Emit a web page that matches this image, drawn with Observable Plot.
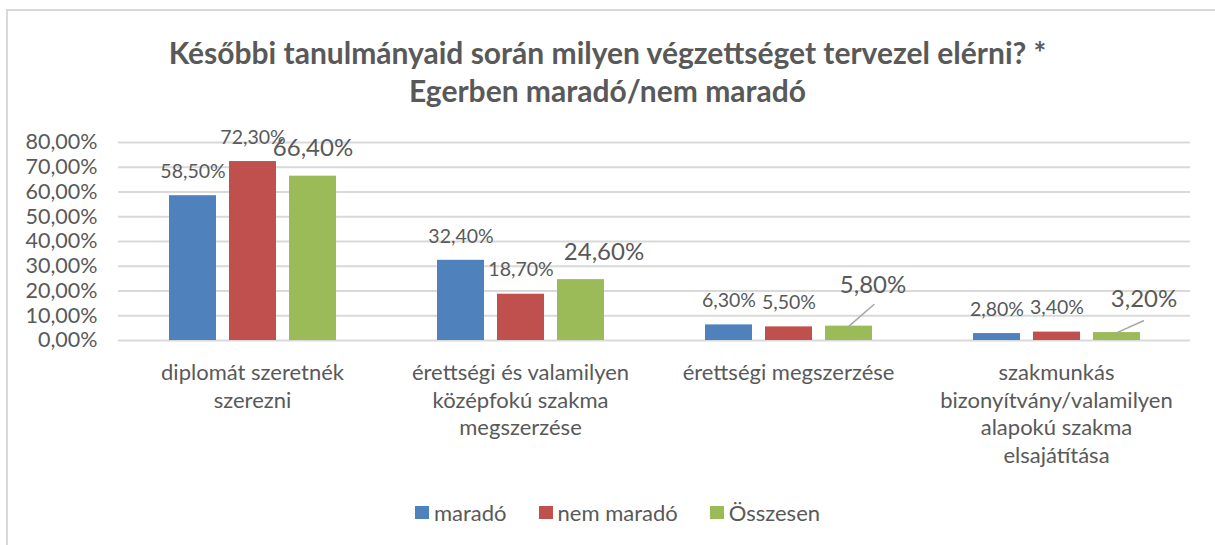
<!DOCTYPE html>
<html>
<head>
<meta charset="utf-8">
<script src="https://cdn.jsdelivr.net/npm/d3@7"></script>
<script src="https://cdn.jsdelivr.net/npm/@observablehq/plot@0.6"></script>
<style>
  html, body { margin: 0; padding: 0; background: #fff; }
  body { width: 1215px; height: 545px; position: relative; overflow: hidden; font-family: Lato, "Open Sans", sans-serif; }
  #frame { position: absolute; left: 6px; top: 9px; width: 1230px; height: 560px; border: 2px solid #d9d9d9; box-sizing: border-box; }
  #title { position: absolute; left: 0; width: 1215px; top: 33px; text-align: center; color: #595959; font-weight: bold; font-size: 30px; line-height: 38px; font-family: Lato, sans-serif; }
  #chart { position: absolute; left: 0; top: 110px; }
  #legend { position: absolute; left: 0; width: 1195px; padding-left: 20px; top: 499px; display: flex; justify-content: center; color: #595959; font-size: 22px; }
  .item { display: flex; align-items: center; margin: 0 16px; }
  .sw { width: 14px; height: 13px; margin-right: 5px; }
</style>
</head>
<body>
<div id="frame"></div>
<div id="title">Későbbi tanulmányaid során milyen végzettséget tervezel elérni? *<br>Egerben maradó/nem maradó</div>
<div id="chart"></div>
<div id="legend"></div>
<script>
const categories = [
  "diplomát szeretnék szerezni",
  "érettségi és valamilyen középfokú szakma megszerzése",
  "érettségi megszerzése",
  "szakmunkás bizonyítvány/valamilyen alapokú szakma elsajátítása"
];
const categoryLabels = [
  "diplomát szeretnék\nszerezni",
  "érettségi és valamilyen\nközépfokú szakma\nmegszerzése",
  "érettségi megszerzése",
  "szakmunkás\nbizonyítvány/valamilyen\nalapokú szakma\nelsajátítása"
];
const seriesNames = ["maradó", "nem maradó", "Összesen"];
const seriesColors = ["#4f81bd", "#c0504d", "#9bbb59"];
const marado = [58.5, 32.4, 6.3, 2.8];
const nemMarado = [72.3, 18.7, 5.5, 3.4];
const osszesen = [66.4, 24.6, 5.8, 3.2];
const yTicks = [0, 10, 20, 30, 40, 50, 60, 70, 80];

const seriesValues = [marado, nemMarado, osszesen];
const data = [];
categories.forEach((c, i) => {
  seriesNames.forEach((s, j) => {
    data.push({category: c, series: s, value: seriesValues[j][i], ci: i, si: j});
  });
});
const fmt = v => v.toFixed(2).replace(".", ",") + "%";
const labelMap = new Map(categories.map((c, i) => [c, categoryLabels[i]]));

const small = data.filter(d => d.si < 2);
const greenFirst = data.filter(d => d.si === 2 && d.ci === 0);
const greenSecond = data.filter(d => d.si === 2 && d.ci === 1);
const greenThird = data.filter(d => d.si === 2 && d.ci === 2);
const greenFourth = data.filter(d => d.si === 2 && d.ci === 3);

const leaderShape = {
  draw(context, l) { context.moveTo(0, 0); context.lineTo(0, -l); }
};
const pos = {fx: "category", x: "series", y: "value"};
const lbl = d => fmt(d.value);

const chart = Plot.plot({
  width: 1215,
  height: 380,
  marginLeft: 118,
  marginRight: 25,
  marginTop: 32,
  marginBottom: 150,
  style: {fontFamily: "Lato, 'Open Sans', sans-serif", color: "#595959", background: "transparent"},
  fx: {domain: categories, padding: 0},
  x: {domain: seriesNames, paddingInner: 0.22, paddingOuter: 0.84, axis: null},
  y: {domain: [0, 80]},
  color: {domain: seriesNames, range: seriesColors},
  marks: [
    Plot.gridY(yTicks, {stroke: "#d9d9d9", strokeOpacity: 1, strokeWidth: 2}),
    Plot.axisY({ticks: yTicks, tickFormat: fmt, tickSize: 0, tickPadding: 21, fontSize: 21.5, fill: "#595959", label: null}),
    Plot.axisFx({anchor: "bottom", tickFormat: c => labelMap.get(c), tickSize: 0, tickPadding: 20, fontSize: 22, lineHeight: 1.25, fill: "#595959", label: null, lineAnchor: "top"}),
    Plot.barY(data, {...pos, fill: "series"}),
    Plot.text(small, {...pos, text: lbl, dy: -24, fontSize: 19.5, fill: "#595959"}),
    Plot.text(greenFirst, {...pos, text: lbl, dy: -28, fontSize: 24, fill: "#595959"}),
    Plot.text(greenSecond, {...pos, text: lbl, dx: 23, dy: -27, fontSize: 24, fill: "#595959"}),
    Plot.text(greenThird, {...pos, text: lbl, dx: 24, dy: -41, fontSize: 24, fill: "#595959"}),
    Plot.text(greenFourth, {...pos, text: lbl, dx: 27, dy: -33, fontSize: 24, fill: "#595959"}),
    Plot.vector(greenThird, {...pos, anchor: "start", length: 33, rotate: 49, shape: leaderShape, stroke: "#a6a6a6", strokeWidth: 1.5}),
    Plot.vector(greenFourth, {...pos, anchor: "start", length: 29, rotate: 66, shape: leaderShape, stroke: "#a6a6a6", strokeWidth: 1.5})
  ]
});
document.getElementById("chart").appendChild(chart);

const legend = document.getElementById("legend");
seriesNames.forEach((s, j) => {
  const item = document.createElement("div");
  item.className = "item";
  const sw = document.createElement("div");
  sw.className = "sw";
  sw.style.background = seriesColors[j];
  const t = document.createElement("span");
  t.textContent = s;
  item.appendChild(sw);
  item.appendChild(t);
  legend.appendChild(item);
});
</script>
</body>
</html>
